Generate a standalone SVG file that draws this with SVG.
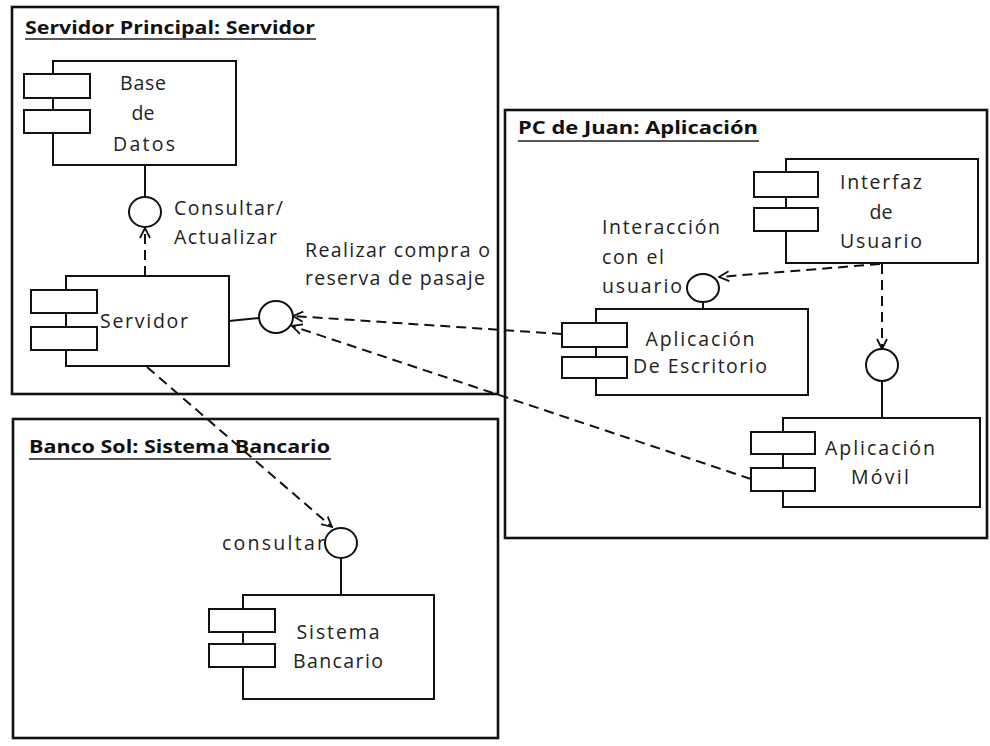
<svg xmlns="http://www.w3.org/2000/svg" width="990" height="746" viewBox="0 0 990 746">
<style>
.frame{fill:none;stroke:#111;stroke-width:2.6}
.comp{fill:#fff;stroke:#111;stroke-width:2}
.port{fill:#fff;stroke:#111;stroke-width:2}
.iface{fill:#fff;stroke:#111;stroke-width:2}
.solid{stroke:#111;stroke-width:2;fill:none}
.dash{stroke:#111;stroke-width:2;fill:none;stroke-dasharray:10 6;marker-end:url(#open)}
.t{font-family:"Open Sans","Liberation Sans",sans-serif;font-size:19.5px;fill:#222}
.c{text-anchor:middle}
.title{font-family:"Open Sans","Liberation Sans",sans-serif;font-size:17px;font-weight:bold;fill:#111}
.ul{stroke:#222;stroke-width:1.6}
</style>
<defs>
<marker id="open" viewBox="0 0 12 12" refX="11" refY="6" markerWidth="12" markerHeight="12" markerUnits="userSpaceOnUse" orient="auto">
<path d="M1,1 L11,6 L1,11" fill="none" stroke="#111" stroke-width="1.8"/>
</marker>
</defs>

<g id="frame-servidor-principal">
<rect class="frame" x="12" y="7" width="486" height="387"/>
<text class="title" x="25" y="34" textLength="290" lengthAdjust="spacingAndGlyphs">Servidor Principal: Servidor</text>
<line class="ul" x1="25" y1="39" x2="316" y2="39"/>
</g>

<g id="frame-pc-juan">
<rect class="frame" x="505" y="110" width="482" height="428"/>
<text class="title" x="518" y="134" textLength="240" lengthAdjust="spacingAndGlyphs">PC de Juan: Aplicación</text>
<line class="ul" x1="518" y1="141" x2="759" y2="141"/>
</g>

<g id="frame-banco-sol">
<rect class="frame" x="13" y="419" width="485" height="319"/>
<text class="title" x="29" y="453" textLength="301" lengthAdjust="spacingAndGlyphs">Banco Sol: Sistema Bancario</text>
<line class="ul" x1="29" y1="459" x2="331" y2="459"/>
</g>

<g id="connectors">
<line class="solid" x1="145" y1="165" x2="145" y2="197"/>
<line class="dash" x1="145" y1="276" x2="145" y2="228"/>
<line class="solid" x1="229" y1="321" x2="259" y2="318"/>
<line class="dash" x1="562" y1="334" x2="293" y2="316"/>
<line class="dash" x1="751" y1="479" x2="292" y2="326"/>
<line class="dash" x1="147" y1="367" x2="332" y2="527"/>
<line class="solid" x1="341" y1="559" x2="341" y2="595"/>
<line class="dash" x1="880" y1="264" x2="719" y2="277"/>
<line class="solid" x1="703" y1="303" x2="703" y2="309"/>
<line class="dash" x1="882" y1="264" x2="882" y2="349"/>
<line class="solid" x1="882" y1="381" x2="882" y2="418"/>
</g>

<g id="iface-consultar-actualizar">
<ellipse class="iface" cx="145" cy="212" rx="16" ry="15"/>
<text class="t" x="174" y="215" textLength="109" lengthAdjust="spacing">Consultar/</text>
<text class="t" x="174" y="244" textLength="103" lengthAdjust="spacing">Actualizar</text>
</g>

<g id="iface-realizar-compra">
<ellipse class="iface" cx="276" cy="317" rx="17" ry="16"/>
<text class="t" x="305" y="257" textLength="185" lengthAdjust="spacing">Realizar compra o</text>
<text class="t" x="305" y="285" textLength="180" lengthAdjust="spacing">reserva de pasaje</text>
</g>

<g id="iface-interaccion">
<ellipse class="iface" cx="703" cy="288" rx="16" ry="14"/>
<text class="t" x="602" y="234" textLength="118" lengthAdjust="spacing">Interacción</text>
<text class="t" x="602" y="264" textLength="62" lengthAdjust="spacing">con el</text>
<text class="t" x="602" y="293" textLength="80" lengthAdjust="spacing">usuario</text>
</g>

<g id="iface-movil">
<ellipse class="iface" cx="882" cy="365" rx="16" ry="16"/>
</g>

<g id="iface-consultar">
<ellipse class="iface" cx="341" cy="543" rx="16" ry="15"/>
<text class="t" x="222" y="550" textLength="103" lengthAdjust="spacing">consultar</text>
</g>

<g id="base-de-datos">
<rect class="comp" x="53" y="61" width="183" height="104"/>
<rect class="port" x="24" y="74" width="66" height="24"/>
<rect class="port" x="24" y="110" width="66" height="23"/>
<text class="t c" x="143" y="90" textLength="46" lengthAdjust="spacing">Base</text>
<text class="t c" x="143" y="120">de</text>
<text class="t c" x="144" y="151" textLength="62" lengthAdjust="spacing">Datos</text>
</g>

<g id="servidor">
<rect class="comp" x="66" y="276" width="163" height="90"/>
<rect class="port" x="31" y="290" width="66" height="23"/>
<rect class="port" x="31" y="327" width="66" height="23"/>
<text class="t" x="100" y="328" textLength="88" lengthAdjust="spacing">Servidor</text>
</g>

<g id="interfaz-usuario">
<rect class="comp" x="786" y="159" width="192" height="104"/>
<rect class="port" x="754" y="172" width="64" height="25"/>
<rect class="port" x="754" y="208" width="64" height="23"/>
<text class="t c" x="881" y="189" textLength="82" lengthAdjust="spacing">Interfaz</text>
<text class="t c" x="881" y="219">de</text>
<text class="t c" x="881" y="248" textLength="82" lengthAdjust="spacing">Usuario</text>
</g>

<g id="aplicacion-escritorio">
<rect class="comp" x="596" y="309" width="212" height="86"/>
<rect class="port" x="562" y="323" width="65" height="24"/>
<rect class="port" x="562" y="357" width="65" height="21"/>
<text class="t c" x="700" y="346" textLength="109" lengthAdjust="spacing">Aplicación</text>
<text class="t" x="633" y="373" font-size="18" textLength="134" lengthAdjust="spacing">De Escritorio</text>
</g>

<g id="aplicacion-movil">
<rect class="comp" x="783" y="418" width="197" height="89"/>
<rect class="port" x="751" y="432" width="64" height="22"/>
<rect class="port" x="751" y="468" width="64" height="23"/>
<text class="t c" x="880" y="455" textLength="110" lengthAdjust="spacing">Aplicación</text>
<text class="t c" x="880" y="484" textLength="58" lengthAdjust="spacing">Móvil</text>
</g>

<g id="sistema-bancario">
<rect class="comp" x="243" y="595" width="191" height="104"/>
<rect class="port" x="209" y="609" width="66" height="23"/>
<rect class="port" x="209" y="644" width="66" height="23"/>
<text class="t c" x="338" y="639" textLength="83" lengthAdjust="spacing">Sistema</text>
<text class="t c" x="338" y="668" textLength="90" lengthAdjust="spacing">Bancario</text>
</g>
</svg>
